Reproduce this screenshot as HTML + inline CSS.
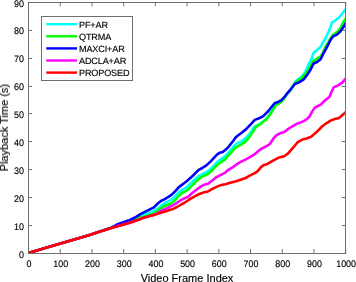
<!DOCTYPE html>
<html><head><meta charset="utf-8"><style>
html,body{margin:0;padding:0;background:#fff;}
body{width:356px;height:282px;overflow:hidden;}
svg{display:block;}
text{font-family:"Liberation Sans",sans-serif;fill:#000;stroke:#000;stroke-width:0.15px;}
.t{filter:grayscale(1);}
</style></head><body>
<svg width="356" height="282" viewBox="0 0 356 282">
<defs><clipPath id="c"><rect x="28.5" y="2.5" width="317" height="251"/></clipPath></defs>
<g clip-path="url(#c)">
<polyline points="28.5,253.0 46.0,247.8 88.0,235.5 100.0,231.4 113.0,227.0 128.4,221.4 140.0,216.2 143.0,215.0 147.9,213.2 153.9,210.9 158.8,207.9 160.5,206.2 165.1,202.8 170.2,200.4 172.5,198.9 175.1,196.3 178.6,192.4 182.2,189.6 185.7,187.8 188.5,185.5 191.7,182.3 195.2,179.0 198.8,175.8 202.3,174.1 206.0,172.4 208.8,170.6 213.0,166.7 217.3,162.0 220.0,159.9 225.1,156.4 230.2,150.5 235.3,144.5 239.6,142.0 242.0,141.1 246.3,137.4 250.5,132.6 253.7,127.8 256.4,125.6 260.1,124.0 262.0,122.2 266.3,119.0 269.4,114.8 272.6,110.0 275.8,104.7 279.0,103.1 283.3,99.4 286.5,94.6 290.8,90.0 294.0,83.8 296.0,80.8 298.5,79.0 301.3,77.0 305.0,72.5 308.5,64.4 311.3,59.5 313.5,53.0 317.2,49.8 320.5,47.0 324.6,39.5 326.0,37.2 329.0,30.8 332.0,22.6 335.7,20.0 339.3,17.3 342.9,12.7 346.5,8.0" fill="none" stroke="#00ffff" stroke-width="2.6" stroke-linejoin="round" stroke-linecap="butt"/>
<polyline points="28.5,253.0 46.0,247.8 88.0,235.5 100.0,231.4 113.0,227.0 128.4,222.0 140.0,217.1 142.0,217.4 147.9,215.4 153.9,213.4 160.0,208.9 165.1,205.7 170.2,204.0 175.1,200.2 178.6,196.0 182.2,192.8 185.7,191.3 188.3,189.4 192.5,185.1 195.9,181.5 199.5,178.3 203.0,176.2 206.0,174.8 208.5,173.5 211.3,171.0 214.7,167.6 218.1,164.2 220.0,162.9 225.1,159.4 230.2,153.4 235.3,147.9 239.6,145.4 244.1,142.7 248.4,138.5 252.6,132.1 256.4,126.2 260.1,124.6 262.0,122.7 266.3,119.5 269.4,115.3 272.6,110.5 275.8,105.2 279.0,103.6 283.3,99.9 286.5,94.2 290.8,89.8 294.0,84.6 297.0,81.2 301.3,78.3 305.5,73.6 308.7,69.5 312.8,61.6 317.2,58.5 320.3,56.8 322.5,53.5 324.8,48.0 328.2,42.5 330.8,38.0 332.7,34.8 336.9,32.3 340.5,28.0 343.5,21.7 346.5,17.5" fill="none" stroke="#00ff00" stroke-width="2.6" stroke-linejoin="round" stroke-linecap="butt"/>
<polyline points="28.5,253.0 46.0,247.8 88.0,235.5 100.0,231.4 112.0,227.4 117.0,224.6 128.4,220.6 135.0,217.5 140.0,214.4 142.0,213.4 147.9,210.4 153.9,207.4 157.8,203.5 160.0,201.8 161.3,200.8 164.3,199.4 168.0,197.2 171.5,194.9 175.1,191.3 178.6,187.4 182.2,184.6 186.0,181.8 189.5,178.7 193.1,175.5 195.9,172.6 198.8,169.8 202.3,168.0 206.0,165.6 210.5,161.6 213.9,157.8 217.3,154.4 220.0,152.7 222.8,152.1 227.8,147.8 233.5,140.5 236.0,137.0 241.7,132.8 246.3,128.9 250.5,124.6 254.8,119.9 259.0,118.3 263.3,116.1 265.2,114.2 268.4,111.0 271.6,106.8 274.8,103.0 278.0,102.0 281.1,100.4 284.3,97.2 287.4,93.2 291.7,88.0 294.9,84.0 299.1,82.3 303.4,79.7 307.1,74.9 310.0,70.6 313.5,63.7 317.0,62.0 320.6,59.2 323.4,53.4 325.2,50.3 328.2,44.6 330.8,39.5 333.1,36.4 336.9,34.6 340.5,31.4 342.9,27.8 346.5,22.0" fill="none" stroke="#0000ff" stroke-width="2.6" stroke-linejoin="round" stroke-linecap="butt"/>
<polyline points="28.5,253.0 46.0,247.8 88.0,235.5 100.0,231.4 114.2,227.0 128.4,223.0 140.0,219.2 142.0,218.3 150.0,215.9 155.9,214.0 160.0,211.5 166.8,208.3 172.8,205.3 177.0,202.8 181.3,199.8 184.0,198.5 188.0,196.9 192.5,192.8 196.8,189.4 201.0,186.4 204.4,184.7 208.0,183.8 212.3,180.5 216.5,177.1 220.8,174.9 225.0,172.8 228.4,169.8 232.0,167.7 238.8,162.9 247.3,158.6 254.4,154.4 259.2,150.3 262.4,148.2 266.6,146.1 269.8,144.0 273.0,139.2 276.2,135.4 280.0,133.3 284.3,131.9 288.5,128.7 292.8,126.1 297.0,123.7 301.3,122.1 304.0,120.9 306.0,119.7 309.4,116.7 312.6,110.9 314.8,107.6 318.0,106.0 321.1,104.4 323.3,101.9 326.0,99.6 329.4,97.0 331.6,91.7 333.7,87.4 338.0,85.3 342.2,82.6 346.5,77.6" fill="none" stroke="#ff00ff" stroke-width="2.6" stroke-linejoin="round" stroke-linecap="butt"/>
<polyline points="28.5,253.0 46.0,247.8 88.0,235.5 100.0,231.4 114.2,227.3 128.4,223.2 140.0,219.3 142.0,218.3 147.9,216.4 153.9,214.9 160.0,212.9 166.8,210.9 172.8,209.1 177.0,207.0 181.3,204.5 184.0,203.0 188.0,200.5 189.1,199.6 194.2,196.6 199.3,194.0 204.4,192.3 208.0,191.5 211.4,189.4 216.5,186.9 220.8,185.1 225.5,184.2 231.1,182.5 236.2,181.2 241.3,179.5 245.6,178.1 250.0,175.4 254.3,173.4 257.4,171.3 260.6,167.6 263.8,164.9 267.0,164.2 271.3,161.7 274.0,160.1 278.3,157.8 284.1,156.2 287.8,153.6 292.1,148.8 295.3,145.0 298.0,141.9 302.3,139.6 306.5,138.5 310.8,136.9 314.0,134.2 317.1,131.6 322.0,126.5 326.3,123.3 330.5,120.6 334.8,119.0 339.0,118.0 342.2,115.3 346.5,111.6" fill="none" stroke="#ff0000" stroke-width="2.6" stroke-linejoin="round" stroke-linecap="butt"/>
</g>
<rect x="28.5" y="2.5" width="317" height="251" fill="none" stroke="#6e6e6e" stroke-width="1"/>
<g stroke="#6e6e6e" stroke-width="1">
<line x1="28.50" y1="253.5" x2="28.50" y2="249" /><line x1="28.50" y1="2.5" x2="28.50" y2="6.2" /><line x1="60.22" y1="253.5" x2="60.22" y2="249" /><line x1="60.22" y1="2.5" x2="60.22" y2="6.2" /><line x1="91.94" y1="253.5" x2="91.94" y2="249" /><line x1="91.94" y1="2.5" x2="91.94" y2="6.2" /><line x1="123.66" y1="253.5" x2="123.66" y2="249" /><line x1="123.66" y1="2.5" x2="123.66" y2="6.2" /><line x1="155.38" y1="253.5" x2="155.38" y2="249" /><line x1="155.38" y1="2.5" x2="155.38" y2="6.2" /><line x1="187.10" y1="253.5" x2="187.10" y2="249" /><line x1="187.10" y1="2.5" x2="187.10" y2="6.2" /><line x1="218.82" y1="253.5" x2="218.82" y2="249" /><line x1="218.82" y1="2.5" x2="218.82" y2="6.2" /><line x1="250.54" y1="253.5" x2="250.54" y2="249" /><line x1="250.54" y1="2.5" x2="250.54" y2="6.2" /><line x1="282.26" y1="253.5" x2="282.26" y2="249" /><line x1="282.26" y1="2.5" x2="282.26" y2="6.2" /><line x1="313.98" y1="253.5" x2="313.98" y2="249" /><line x1="313.98" y1="2.5" x2="313.98" y2="6.2" /><line x1="345.70" y1="253.5" x2="345.70" y2="249" /><line x1="345.70" y1="2.5" x2="345.70" y2="6.2" /><line x1="28.5" y1="253.5" x2="32.2" y2="253.5" /><line x1="345.5" y1="253.5" x2="341.8" y2="253.5" /><line x1="28.5" y1="225.5" x2="32.2" y2="225.5" /><line x1="345.5" y1="225.5" x2="341.8" y2="225.5" /><line x1="28.5" y1="197.5" x2="32.2" y2="197.5" /><line x1="345.5" y1="197.5" x2="341.8" y2="197.5" /><line x1="28.5" y1="169.5" x2="32.2" y2="169.5" /><line x1="345.5" y1="169.5" x2="341.8" y2="169.5" /><line x1="28.5" y1="141.5" x2="32.2" y2="141.5" /><line x1="345.5" y1="141.5" x2="341.8" y2="141.5" /><line x1="28.5" y1="113.5" x2="32.2" y2="113.5" /><line x1="345.5" y1="113.5" x2="341.8" y2="113.5" /><line x1="28.5" y1="86.5" x2="32.2" y2="86.5" /><line x1="345.5" y1="86.5" x2="341.8" y2="86.5" /><line x1="28.5" y1="58.5" x2="32.2" y2="58.5" /><line x1="345.5" y1="58.5" x2="341.8" y2="58.5" /><line x1="28.5" y1="30.5" x2="32.2" y2="30.5" /><line x1="345.5" y1="30.5" x2="341.8" y2="30.5" /><line x1="28.5" y1="2.5" x2="32.2" y2="2.5" /><line x1="345.5" y1="2.5" x2="341.8" y2="2.5" />
</g>
<g class="t" font-size="9.5" text-rendering="geometricPrecision">
<text transform="translate(29.10,267.4) scale(0.94,1)" text-anchor="middle">0</text><text transform="translate(60.80,267.4) scale(0.94,1)" text-anchor="middle">100</text><text transform="translate(92.50,267.4) scale(0.94,1)" text-anchor="middle">200</text><text transform="translate(124.20,267.4) scale(0.94,1)" text-anchor="middle">300</text><text transform="translate(155.90,267.4) scale(0.94,1)" text-anchor="middle">400</text><text transform="translate(187.60,267.4) scale(0.94,1)" text-anchor="middle">500</text><text transform="translate(219.30,267.4) scale(0.94,1)" text-anchor="middle">600</text><text transform="translate(251.00,267.4) scale(0.94,1)" text-anchor="middle">700</text><text transform="translate(282.70,267.4) scale(0.94,1)" text-anchor="middle">800</text><text transform="translate(314.40,267.4) scale(0.94,1)" text-anchor="middle">900</text><text transform="translate(346.10,267.4) scale(0.94,1)" text-anchor="middle">1000</text>
<text transform="translate(23.9,257.50) scale(0.94,1)" text-anchor="end">0</text><text transform="translate(23.9,229.61) scale(0.94,1)" text-anchor="end">10</text><text transform="translate(23.9,201.72) scale(0.94,1)" text-anchor="end">20</text><text transform="translate(23.9,173.83) scale(0.94,1)" text-anchor="end">30</text><text transform="translate(23.9,145.94) scale(0.94,1)" text-anchor="end">40</text><text transform="translate(23.9,118.06) scale(0.94,1)" text-anchor="end">50</text><text transform="translate(23.9,90.17) scale(0.94,1)" text-anchor="end">60</text><text transform="translate(23.9,62.28) scale(0.94,1)" text-anchor="end">70</text><text transform="translate(23.9,34.39) scale(0.94,1)" text-anchor="end">80</text><text transform="translate(23.9,6.50) scale(0.94,1)" text-anchor="end">90</text>
</g>
<g class="t" font-size="11">
<text x="187" y="281.5" text-anchor="middle">Video Frame Index</text>
<text transform="translate(8,127.6) rotate(-90)" text-anchor="middle">Playback Time (s)</text>
</g>
<rect x="41.5" y="16.5" width="91" height="64" fill="#fff" stroke="#6e6e6e" stroke-width="1"/><line x1="46.3" y1="24.2" x2="77" y2="24.2" stroke="#00ffff" stroke-width="2.4"/><line x1="46.3" y1="36.3" x2="77" y2="36.3" stroke="#00ff00" stroke-width="2.4"/><line x1="46.3" y1="48.4" x2="77" y2="48.4" stroke="#0000ff" stroke-width="2.4"/><line x1="46.3" y1="60.5" x2="77" y2="60.5" stroke="#ff00ff" stroke-width="2.4"/><line x1="46.3" y1="72.6" x2="77" y2="72.6" stroke="#ff0000" stroke-width="2.4"/>
<g class="t" font-size="9.1" letter-spacing="-0.15" text-rendering="geometricPrecision">
<text x="79" y="28.0">PF+AR</text><text x="79" y="40.1">QTRMA</text><text x="79" y="52.2">MAXCI+AR</text><text x="79" y="64.3">ADCLA+AR</text><text x="79" y="76.4">PROPOSED</text>
</g>
</svg>
</body></html>
